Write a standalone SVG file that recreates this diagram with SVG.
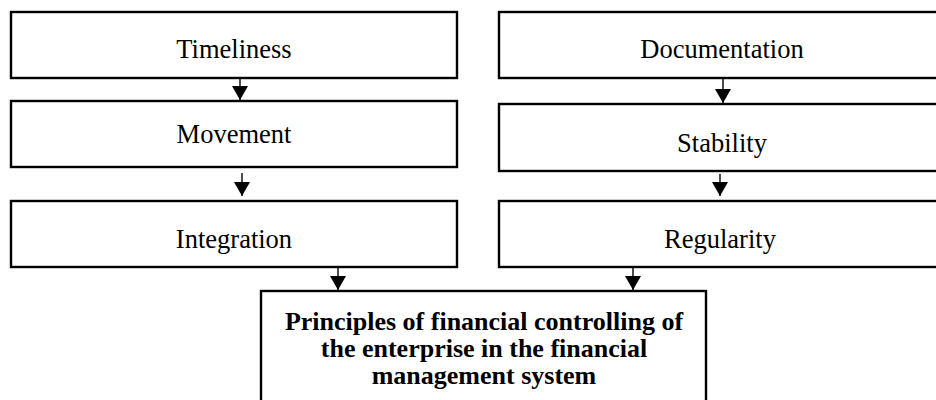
<svg xmlns="http://www.w3.org/2000/svg" width="936" height="400" viewBox="0 0 936 400">
  <style>
    .box { fill: #ffffff; stroke: #000000; stroke-width: 2.4; }
    .label { font-family: "Liberation Serif", "Times New Roman", serif; font-size: 26.5px; fill: #000000; text-anchor: middle; }
    .title { font-family: "Liberation Serif", "Times New Roman", serif; font-size: 26px; font-weight: bold; fill: #000000; text-anchor: middle; }
    .link { stroke: #000000; stroke-width: 1.4; fill: none; }
  </style>
  <defs>
    <!-- filled triangle pointing along the line direction -->
    <marker id="arrowhead" viewBox="0 0 14 16" refX="14" refY="8" markerWidth="14" markerHeight="16" markerUnits="userSpaceOnUse" orient="auto">
      <path d="M0,0 L14,8 L0,16 Z" fill="#000000"/>
    </marker>
  </defs>
  <rect width="936" height="400" fill="#ffffff"/>

  <!-- left column -->
  <g id="timeliness">
    <rect class="box" x="11" y="12" width="446" height="66"/>
    <text class="label" x="234" y="58">Timeliness</text>
  </g>
  <g id="movement">
    <rect class="box" x="11" y="101" width="446" height="66"/>
    <text class="label" x="234" y="143">Movement</text>
  </g>
  <g id="integration">
    <rect class="box" x="11" y="201" width="446" height="66"/>
    <text class="label" x="234" y="248">Integration</text>
  </g>

  <!-- right column -->
  <g id="documentation">
    <rect class="box" x="499" y="12" width="445" height="66"/>
    <text class="label" x="722" y="58">Documentation</text>
  </g>
  <g id="stability">
    <rect class="box" x="499" y="104" width="445" height="67"/>
    <text class="label" x="722" y="152">Stability</text>
  </g>
  <g id="regularity">
    <rect class="box" x="499" y="201" width="445" height="66"/>
    <text class="label" x="720" y="248">Regularity</text>
  </g>

  <!-- summary node -->
  <g id="principles">
    <rect class="box" x="261" y="291" width="445" height="130"/>
    <text class="title" x="484" y="330">Principles of financial controlling of</text>
    <text class="title" x="484" y="357">the enterprise in the financial</text>
    <text class="title" x="484" y="384">management system</text>
  </g>

  <!-- connectors -->
  <g id="connectors">
    <line class="link" x1="240" y1="78" x2="240" y2="100" marker-end="url(#arrowhead)"/>
    <line class="link" x1="242" y1="173" x2="242" y2="196" marker-end="url(#arrowhead)"/>
    <line class="link" x1="723" y1="78" x2="723" y2="103" marker-end="url(#arrowhead)"/>
    <line class="link" x1="720" y1="174" x2="720" y2="196" marker-end="url(#arrowhead)"/>
    <line class="link" x1="338" y1="267" x2="338" y2="290" marker-end="url(#arrowhead)"/>
    <line class="link" x1="633" y1="267" x2="633" y2="290" marker-end="url(#arrowhead)"/>
  </g>
</svg>
